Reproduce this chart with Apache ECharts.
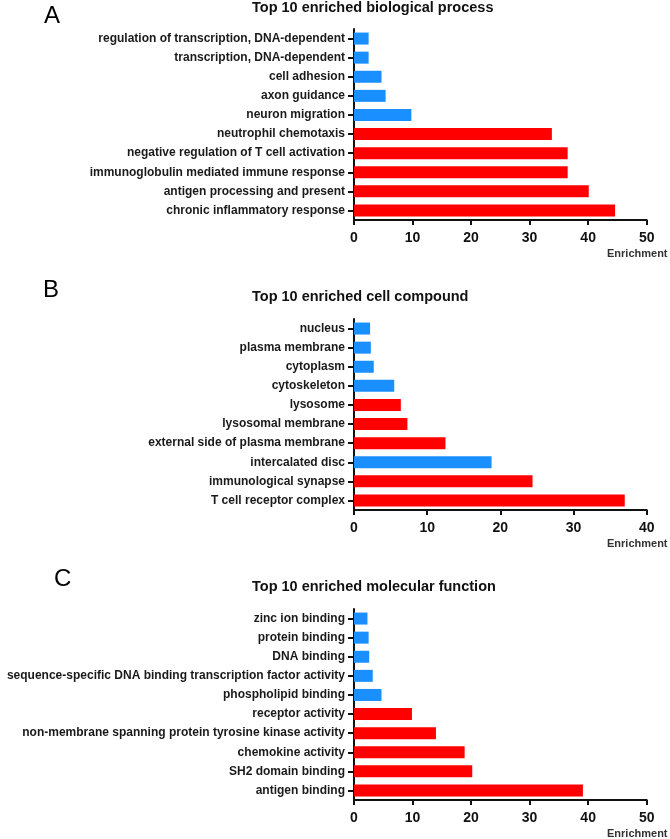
<!DOCTYPE html>
<html>
<head>
<meta charset="utf-8">
<script src="https://cdn.jsdelivr.net/npm/echarts@6/dist/echarts.min.js"></script>
<style>
html,body{margin:0;padding:0;background:#fff;}
#chart{width:670px;height:839px;}
</style>
</head>
<body>
<div id="chart"></div>
<script>
// Panel A: biological process
const catsA = ["regulation of transcription, DNA-dependent","transcription, DNA-dependent","cell adhesion","axon guidance","neuron migration","neutrophil chemotaxis","negative regulation of T cell activation","immunoglobulin mediated immune response","antigen processing and present","chronic inflammatory response"];
const valsA = [2.5, 2.5, 4.7, 5.4, 9.8, 33.8, 36.5, 36.5, 40.1, 44.6];
const groupA = ["down","down","down","down","down","up","up","up","up","up"];

// Panel B: cell compound
const catsB = ["nucleus","plasma membrane","cytoplasm","cytoskeleton","lysosome","lysosomal membrane","external side of plasma membrane","intercalated disc","immunological synapse","T cell receptor complex"];
const valsB = [2.2, 2.3, 2.7, 5.5, 6.4, 7.3, 12.5, 18.8, 24.4, 37.0];
const groupB = ["down","down","down","down","up","up","up","down","up","up"];

// Panel C: molecular function
const catsC = ["zinc ion binding","protein binding","DNA binding","sequence-specific DNA binding transcription factor activity","phospholipid binding","receptor activity","non-membrane spanning protein tyrosine kinase activity","chemokine activity","SH2 domain binding","antigen binding"];
const valsC = [2.3, 2.5, 2.6, 3.2, 4.7, 9.9, 14.0, 18.9, 20.2, 39.1];
const groupC = ["down","down","down","down","down","up","up","up","up","up"];

const xMaxA = 50, xMaxB = 40, xMaxC = 50;
const xTickStep = 10;

const titles = ["Top 10 enriched biological process","Top 10 enriched cell compound","Top 10 enriched molecular function"];
const letters = ["A","B","C"];
const xName = "Enrichment";

const RED = "#ff0000", BLUE = "#1a8fff";
const gridTops = [29, 319, 609];
const gridH = 191;

function colorOf(g){ return g === "up" ? RED : BLUE; }

const panels = [
  {cats: catsA, vals: valsA, grp: groupA, max: xMaxA},
  {cats: catsB, vals: valsB, grp: groupB, max: xMaxB},
  {cats: catsC, vals: valsC, grp: groupC, max: xMaxC}
];

const grid = [], xAxis = [], yAxis = [], series = [];
panels.forEach((p, i) => {
  grid.push({left: 354, right: 23.3, top: gridTops[i], height: gridH, containLabel: false});
  xAxis.push({
    type: 'value', gridIndex: i, min: 0, max: p.max, interval: xTickStep,
    axisLine: {show: true, lineStyle: {color: '#111', width: 2}},
    axisTick: {show: true, length: 5, lineStyle: {color: '#111', width: 2}},
    axisLabel: {color: '#111', fontSize: 14, fontWeight: 'bold', fontFamily: 'Liberation Sans, Arial', margin: 11},
    splitLine: {show: false}
  });
  yAxis.push({
    type: 'category', gridIndex: i, data: p.cats, inverse: true,
    axisLine: {show: true, lineStyle: {color: '#111', width: 2}},
    axisTick: {show: true, length: 6, alignWithLabel: true, lineStyle: {color: '#111', width: 2}},
    axisLabel: {color: '#1a1a1a', fontSize: 12, fontWeight: 'bold', fontFamily: 'Liberation Sans, Arial', margin: 9},
    splitLine: {show: false}
  });
  series.push({
    type: 'bar', xAxisIndex: i, yAxisIndex: i, barWidth: 12,
    data: p.vals.map((v, k) => ({value: v, itemStyle: {color: colorOf(p.grp[k])}})),
    silent: true, animation: false
  });
});

const graphic = [];
const letterPos = [[44, 17], [43, 291], [54, 580]];
const titleY = [8, 297, 587];
const axisY = [220, 510, 800];
for (let i = 0; i < 3; i++) {
  graphic.push({type: 'text', left: letterPos[i][0], top: letterPos[i][1] - 13,
    style: {text: letters[i], font: '24px "Liberation Sans", Arial', fill: '#000'}});
  graphic.push({type: 'text', left: 252, top: titleY[i] - 8,
    style: {text: titles[i], font: 'bold 14.5px "Liberation Sans", Arial', fill: '#111'}});
  graphic.push({type: 'text', left: 607, top: axisY[i] + 28,
    style: {text: xName, font: 'bold 11px "Liberation Sans", Arial', fill: '#333'}});
}

const chart = echarts.init(document.getElementById('chart'), null, {renderer: 'canvas'});
chart.setOption({
  animation: false,
  backgroundColor: '#fff',
  grid, xAxis, yAxis, series, graphic
});
</script>
</body>
</html>
